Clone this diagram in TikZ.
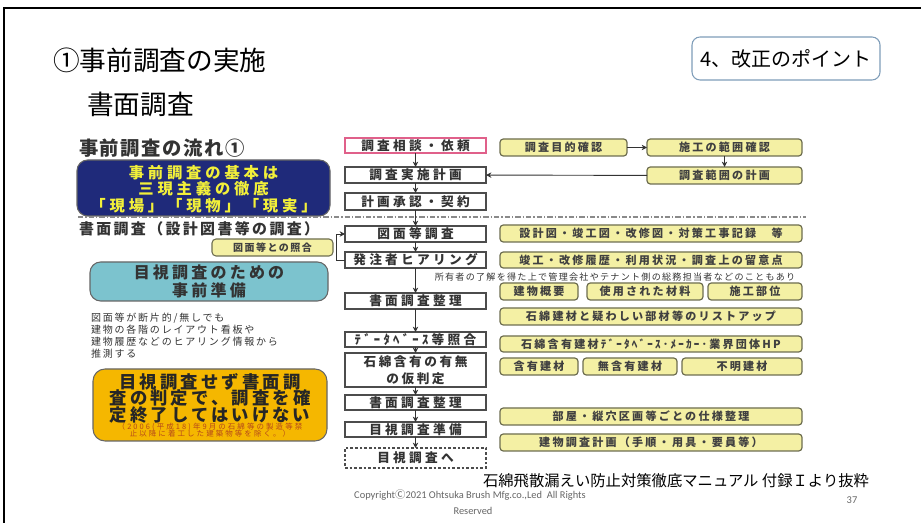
\documentclass[tikz,border=0pt]{standalone}
\usepackage{fontspec}
\usetikzlibrary{arrows.meta}
\newfontfamily\jp{Noto Sans CJK JP}
\newfontfamily\calfont{Carlito}
\definecolor{navy}{HTML}{1F2A7A}
\definecolor{navytext}{HTML}{F2F03A}
\definecolor{tealfill}{HTML}{7CC3CE}
\definecolor{orangefill}{HTML}{F5B700}
\definecolor{orangesmall}{HTML}{B5481A}
\definecolor{yfill}{HTML}{F4F0A4}
\definecolor{yborder}{HTML}{6E6E50}
\definecolor{pinkborder}{HTML}{E0608A}
\definecolor{pointborder}{HTML}{7F9DB9}
\definecolor{dashgray}{HTML}{8A8A8A}
\lineskiplimit=-1000pt
\tikzset{
  area/.style n args={4}{minimum width={(#3-#1)*0.75pt}, minimum height={(#4-#2)*0.75pt},
    at={({(#1+#3)/2},{(#2+#4)/2})}},
  fitbox/.style={inner sep=0pt, outer sep=0pt, anchor=center},
  cbox/.style={fitbox, draw=black!70, line width=0.9pt, fill=white, text=black!80,
    text height=7.2pt, text depth=0pt,
    font=\jp\bfseries\addfontfeature{LetterSpace=26}\fontsize{9.5}{12}\selectfont},
  ybox/.style={fitbox, draw=yborder, line width=0.9pt, fill=yfill, rounded corners=2.5pt, text=black!75,
    text height=6.3pt, text depth=0pt,
    font=\jp\bfseries\addfontfeature{LetterSpace=20}\fontsize{8.3}{10}\selectfont},
  arr/.style={draw=black!80, line width=0.7pt, -{Stealth[length=4pt,width=4pt]}},
  bigbox/.style={fitbox, draw=black!60, line width=0.8pt, rounded corners=8pt},
  plain/.style={inner sep=0pt, outer sep=0pt},
}
\begin{document}
\begin{tikzpicture}[x=0.75pt,y=-0.75pt]
\useasboundingbox (0,0) rectangle (921,523);
\fill[white] (0,0) rectangle (921,523);
\coordinate (fbl) at (4,530);
\coordinate (ftl) at (4,8);
\coordinate (ftr) at (925,8);
\draw[line width=1.5pt] (fbl) -- (ftl) -- (ftr);

% titles
\node[plain, anchor=west, font=\jp\fontsize{20}{24}\selectfont] (title) at (53,60) {①事前調査の実施};
\node[plain, anchor=west, font=\jp\fontsize{20}{24}\selectfont] (sub) at (87,104) {書面調査};
\node[fitbox, draw=pointborder, line width=0.8pt, rounded corners=6pt, area={692}{37}{880}{80},
  text height=11.4pt, text depth=0pt,
  font=\jp\fontsize{15}{18}\selectfont] (point) {4、改正のポイント};

% left column
\node[plain, anchor=west, text=black!80, font=\jp\bfseries\addfontfeature{LetterSpace=8}\fontsize{14.5}{18}\selectfont] (flowttl) at (79,148) {事前調査の流れ①};
\node[bigbox, fill=navy, area={77}{160}{330}{216}] (navybox) {};
\node[plain, align=center, text=navytext,
  font=\jp\bfseries\addfontfeature{LetterSpace=25}\fontsize{11.5}{12.4}\selectfont] (navytxt) at (203.5,189)
  {事前調査の基本は\\三現主義の徹底\\「現場」「現物」「現実」};
\coordinate (dl) at (78,217);
\coordinate (dr) at (806,217);
\draw[dashgray, line width=0.8pt, dash pattern=on 4pt off 1.5pt on 1pt off 1.5pt] (dl) -- (dr);
\node[plain, anchor=west, text=black!80, font=\jp\bfseries\addfontfeature{LetterSpace=16}\fontsize{11.2}{13}\selectfont] (shomen) at (79,229) {書面調査（設計図書等の調査）};
\node[bigbox, fill=tealfill, area={90}{262}{328}{301}] (teal) {};
\node[plain, align=center, text=black!80,
  font=\jp\bfseries\addfontfeature{LetterSpace=20}\fontsize{12}{13.5}\selectfont] (tealtxt) at (209,281.5)
  {目視調査のための\\事前準備};
\node[plain, anchor=north west, align=left, text=black!80,
  font=\jp\addfontfeature{LetterSpace=18}\fontsize{7.5}{9}\selectfont] (note1) at (91,313)
  {図面等が断片的/無しでも\\建物の各階のレイアウト看板や\\建物履歴などのヒアリング情報から\\推測する};
\node[bigbox, fill=orangefill, rounded corners=9pt, area={93}{369}{327}{441}] (orange) {};
\node[plain, align=center, text=black!85,
  font=\jp\bfseries\addfontfeature{LetterSpace=18}\fontsize{13}{12.4}\selectfont] (orangetxt) at (210,398)
  {目視調査せず書面調\\査の判定で、調査を確\\定終了してはいけない};
\node[plain, align=center, text=orangesmall,
  font=\jp\addfontfeature{LetterSpace=28}\fontsize{5.6}{5.2}\selectfont] (orangesm) at (210,430.5)
  {（2006(平成18)年9月の石綿等の製造等禁\\止以降に着工した建築物等を除く。）};

% center column
\node[cbox, draw=pinkborder, area={345}{138}{486}{153}] (c1) {調査相談・依頼};
\node[cbox, area={345}{167}{486}{183}] (c2) {調査実施計画};
\node[cbox, area={345}{193}{486}{210}] (c3) {計画承認・契約};
\node[cbox, area={345}{226}{486}{242}] (c4) {図面等調査};
\node[cbox, area={345}{252}{486}{268}] (c5) {発注者ヒアリング};
\node[cbox, area={345}{293}{486}{309}] (c6) {書面調査整理};
\node[cbox, area={345}{332}{486}{347}] (c7) {ﾃﾞｰﾀﾍﾞｰｽ等照合};
\node[cbox, area={345}{353}{486}{387}] (c8) {};
\node[plain, align=center, text=black!80,
  font=\jp\bfseries\addfontfeature{LetterSpace=20}\fontsize{9.5}{12.5}\selectfont] (c8txt) at (415.5,370)
  {石綿含有の有無\\の仮判定};
\node[cbox, area={345}{395}{486}{410}] (c9) {書面調査整理};
\node[cbox, area={345}{422}{486}{437}] (c10) {目視調査準備};
\node[cbox, dashed, dash pattern=on 2pt off 1.5pt, area={345}{448}{486}{468}] (c11) {目視調査へ};

\draw[arr] (c1) -- (c2);
\draw[arr] (c2) -- (c3);
\draw[arr] (c3) -- (c4);
\draw[arr] (c4) -- (c5);
\draw[arr] (c5) -- (c6);
\draw[arr] (c6) -- (c7);
\draw[arr] (c7) -- (c8);
\draw[arr] (c8) -- (c9);
\draw[arr] (c9) -- (c10);
\draw[arr] (c10) -- (c11);

\node[fitbox, draw=yborder, line width=0.8pt, fill=yfill, rounded corners=3pt, area={212}{239}{333}{256},
  text height=5.7pt, text depth=0pt, text=black!75,
  font=\jp\bfseries\addfontfeature{LetterSpace=15}\fontsize{7.5}{9}\selectfont] (shogo) {図面等との照合};
\draw[arr] (c5.west) -- ++(-9,0) |- (c4.west);

% right column
\node[ybox, area={500}{139}{627}{156}] (r1) {調査目的確認};
\node[ybox, area={647}{139}{802}{156}] (r2) {施工の範囲確認};
\node[ybox, area={647}{167}{802}{184}] (r3) {調査範囲の計画};
\draw[arr] (r1) -- (r2);
\draw[arr] (r2) -- (r3);
\draw[arr] (r3) -- (c2);
\node[ybox, area={500}{225}{802}{242}] (r4) {設計図・竣工図・改修図・対策工事記録　等};
\node[ybox, area={500}{252}{802}{268}] (r5) {竣工・改修履歴・利用状況・調査上の留意点};
\node[plain, text=black!80, font=\jp\addfontfeature{LetterSpace=14}\fontsize{6.8}{8}\selectfont] (note2) at (615,277)
  {所有者の了解を得た上で管理会社やテナント側の総務担当者などのこともあり};
\node[ybox, area={500}{283}{578}{300}] (r6) {建物概要};
\node[ybox, area={587}{283}{703}{300}] (r7) {使用された材料};
\node[ybox, area={708}{283}{802}{300}] (r8) {施工部位};
\node[ybox, area={500}{308}{802}{325}] (r9) {石綿建材と疑わしい部材等のリストアップ};
\node[ybox, area={500}{336}{802}{352}] (r10) {石綿含有建材ﾃﾞｰﾀﾍﾞｰｽ･ﾒｰｶｰ･業界団体HP};
\node[ybox, area={500}{358}{578}{375}] (r11) {含有建材};
\node[ybox, area={583}{358}{677}{375}] (r12) {無含有建材};
\node[ybox, area={682}{358}{802}{375}] (r13) {不明建材};
\node[ybox, area={500}{408}{802}{425}] (r14) {部屋・縦穴区画等ごとの仕様整理};
\node[ybox, area={500}{434}{802}{451}] (r15) {建物調査計画（手順・用具・要員等）};

% footer
\node[plain, anchor=west, font=\jp\fontsize{11.5}{13}\selectfont] (source) at (483,481) {石綿飛散漏えい防止対策徹底マニュアル 付録Ｉより抜粋};
\node[plain, text=black!60, font=\calfont\fontsize{7.8}{9}\selectfont] (copy1) at (470,495) {Copyright{\jp Ⓒ}2021 Ohtsuka Brush Mfg.co.,Led\ \ All Rights};
\node[plain, text=black!60, font=\calfont\fontsize{7.8}{9}\selectfont] (copy2) at (473,511) {Reserved};
\node[plain, text=black!60, font=\calfont\fontsize{7.8}{9}\selectfont] (page) at (852,500) {37};
\end{tikzpicture}
\end{document}
